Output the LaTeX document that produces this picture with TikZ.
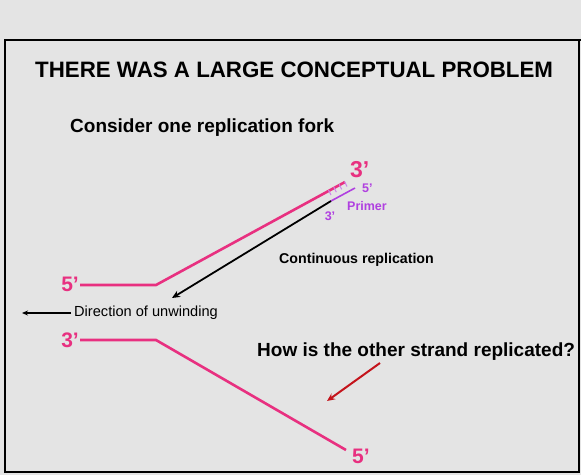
\documentclass[tikz,border=0pt]{standalone}
\usepackage{fontspec}
\setmainfont{Liberation Sans}
\usetikzlibrary{arrows.meta,calc}
\definecolor{bg}{RGB}{228,228,228}
\definecolor{pinkst}{RGB}{232,48,128}
\definecolor{primerc}{RGB}{176,64,224}
\definecolor{darkred}{RGB}{196,20,28}
\tikzset{
  strand/.style={pinkst, line width=2.6pt},
  endlbl/.style={text=pinkst, font=\bfseries\fontsize{21}{21}\selectfont, inner sep=0pt},
  primlbl/.style={text=primerc, font=\bfseries\fontsize{12.5}{12.5}\selectfont, inner sep=0pt},
  txt/.style={inner sep=0pt, anchor=west},
}
\begin{document}
\begin{tikzpicture}[x=1pt,y=-1pt]
\fill[bg] (0,0) rectangle (581,475);
\useasboundingbox (0,0) rectangle (581,475);
% frame
\draw[line width=1.2pt] (5,473) -- (5,40) -- (581,40);
\draw[line width=2.4pt] (5,40) -- (581,40);
\draw[line width=1.2pt] (5,472) -- (579,472) -- (579,40);
% title
\node[txt] (title) at (35,70) {\bfseries\fontsize{22.3}{22.3}\selectfont THERE WAS A LARGE CONCEPTUAL PROBLEM};
\node[txt] (consider) at (70,128) {\bfseries\fontsize{19}{19}\selectfont Consider one replication fork};
% strands
\coordinate (t0) at (80,285);
\coordinate (t1) at (156,285);
\coordinate (t2) at (345,182);
\coordinate (b0) at (80,340);
\coordinate (b1) at (156,340);
\coordinate (b2) at (346,450);
\draw[strand] (t0) -- (t1) -- (t2);
\draw[strand] (b0) -- (b1) -- (b2);
\node[endlbl, anchor=east] (t5) at (79,284) {5’};
\node[endlbl, anchor=east] (b3) at (79,340) {3’};
\node[endlbl, anchor=west, font=\bfseries\fontsize{23}{23}\selectfont] (t3) at (350,170) {3’};
\node[endlbl, anchor=west] (b5) at (352,456) {5’};
% primer
\coordinate (p0) at (331,201);
\coordinate (p1) at (355,188);
\draw[primerc, line width=1.6pt] (p0) -- (p1);
\foreach \i in {0,1,2,3}{
  \draw[primerc!65, line width=1.1pt] ($(328,190)!{\i/3}!(344,181.5)$) ++(0.5,0) -- ++(2.5,5);
}
\node[primlbl, anchor=west] (p5) at (362,188) {5’};
\node[primlbl, anchor=west] (prm) at (347,206) {Primer};
\node[primlbl] (p3) at (330,216) {3’};
% continuous replication arrow
\coordinate (ctip) at (172,298);
\draw[line width=1.8pt, -{Stealth[length=8pt,width=7pt]}] (p0) -- (ctip);
\node[txt] (cont) at (279,260) {\bfseries\fontsize{14.2}{14.2}\selectfont Continuous replication};
% direction of unwinding
\node[txt] (dir) at (74,313) {\fontsize{14.6}{14.6}\selectfont Direction of unwinding};
\coordinate (dtip) at (22,313);
\draw[line width=1.3pt, -{Stealth[length=6pt,width=5pt]}] (dir.west) ++(-3,0) -- (dtip);
% question
\node[txt] (q) at (257,352) {\bfseries\fontsize{19}{19}\selectfont How is the other strand replicated?};
\coordinate (rs) at (380,363);
\coordinate (re) at (327,401);
\draw[darkred, line width=2pt, -{Stealth[length=8pt,width=7pt]}] (rs) -- (re);
\end{tikzpicture}
\end{document}
